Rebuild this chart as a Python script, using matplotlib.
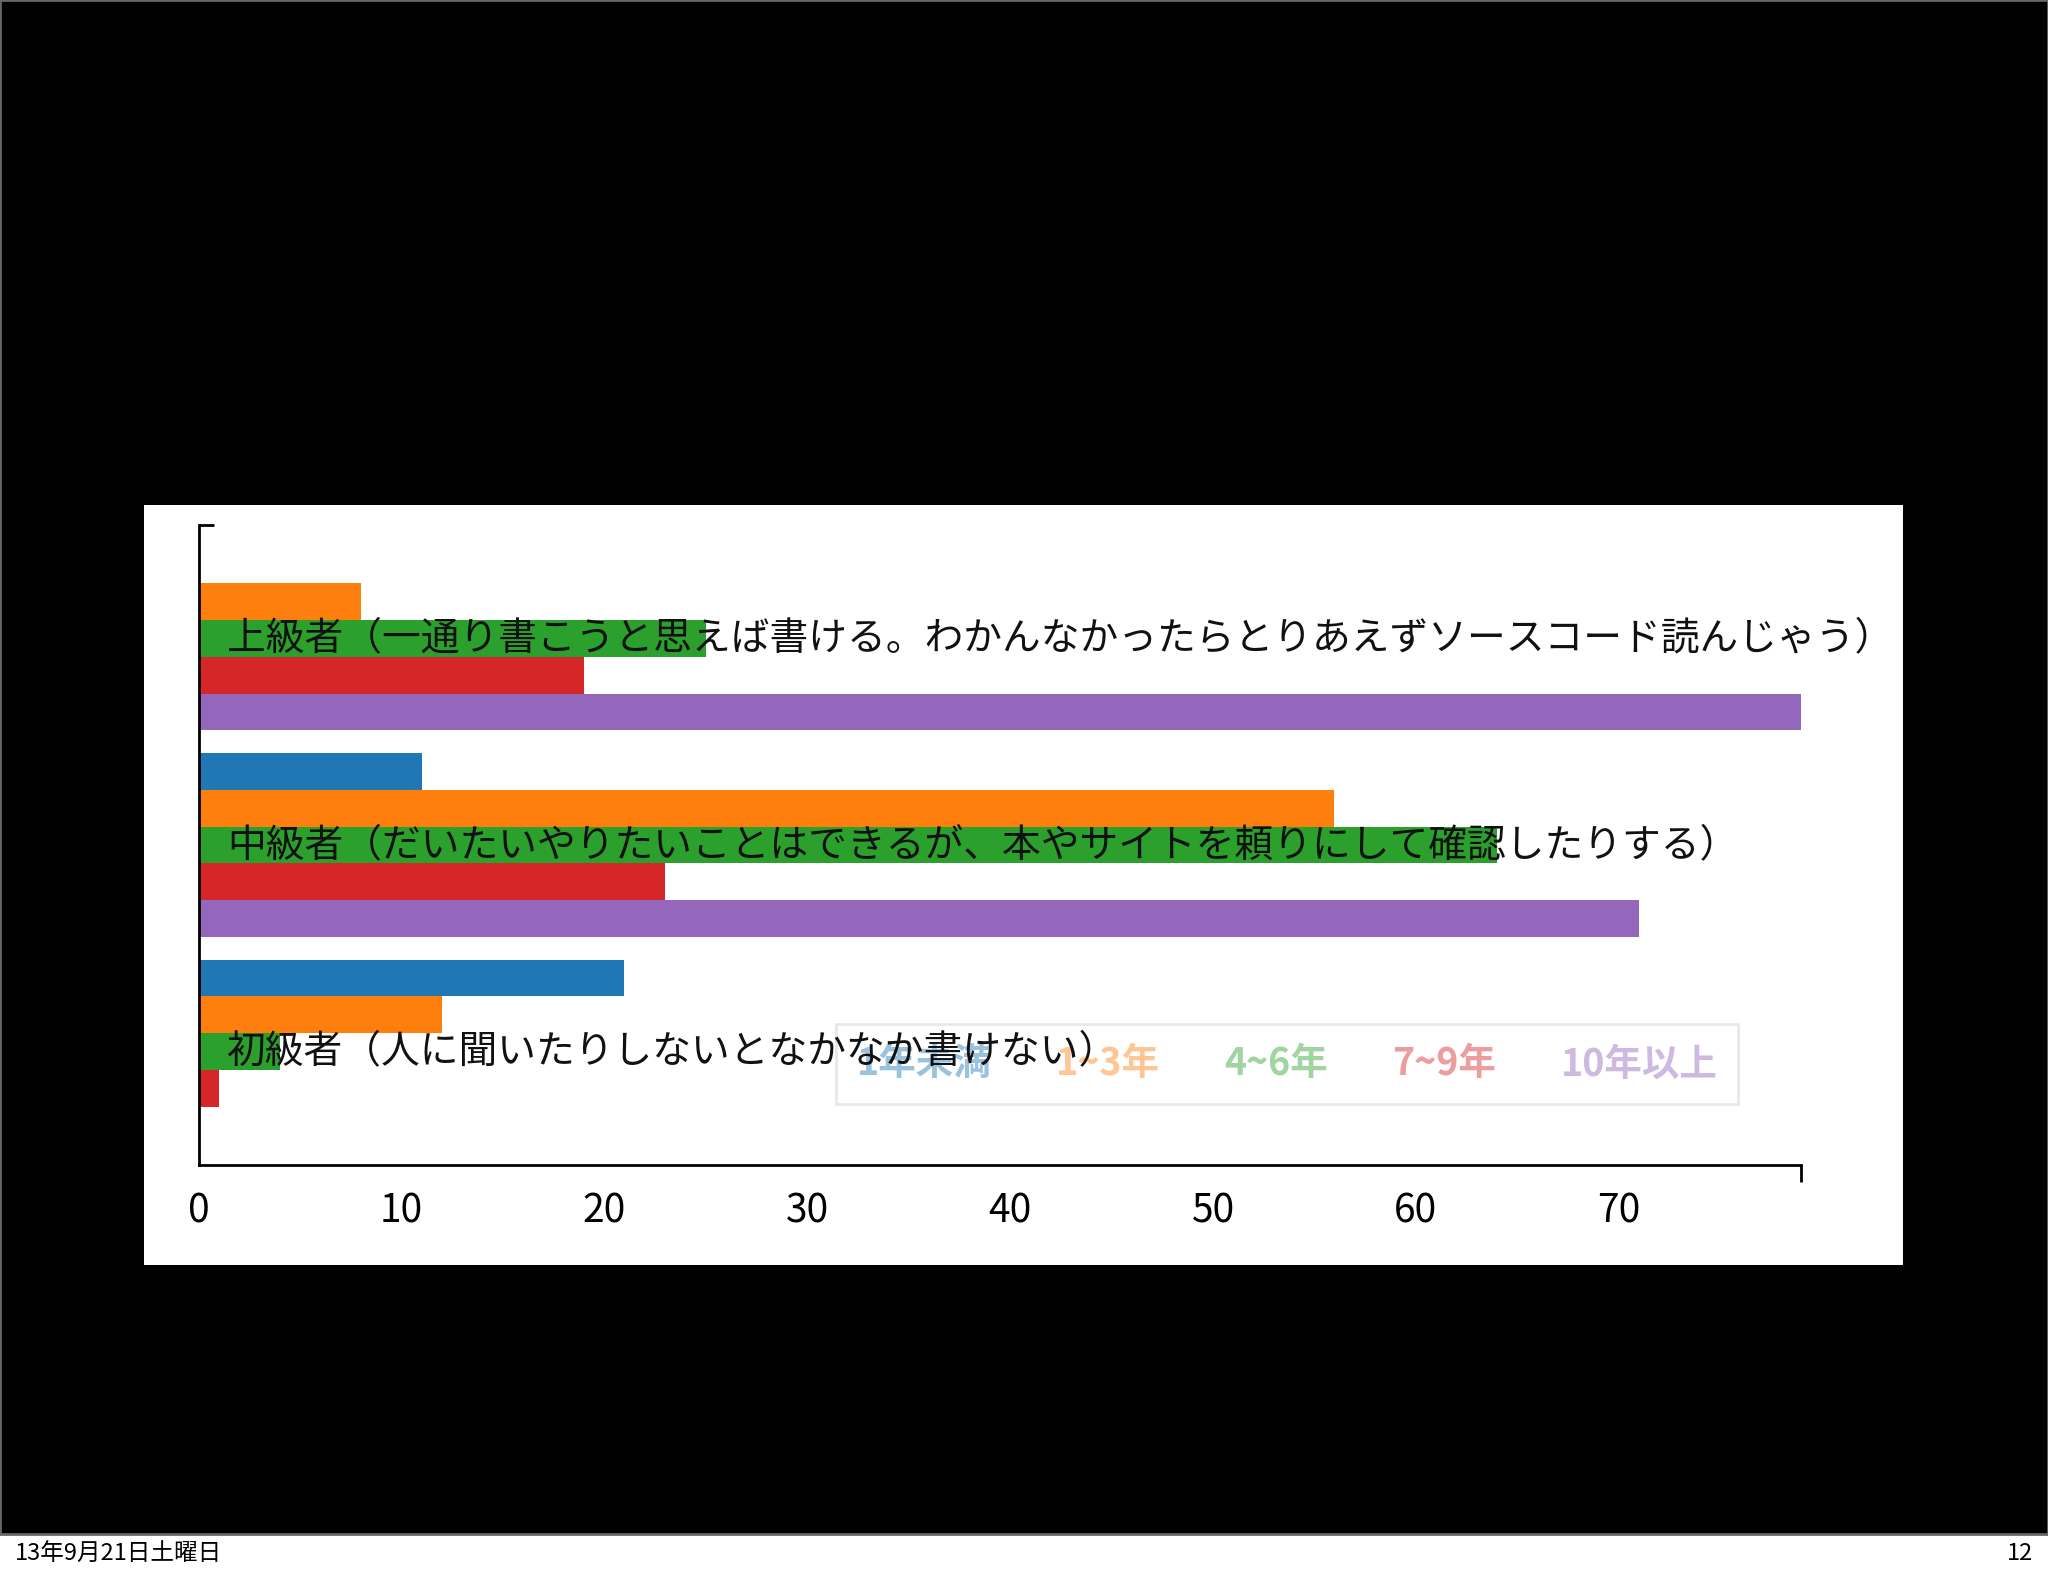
"""
Horizontal grouped bar chart on a slide (experience level vs. years)
"""

import matplotlib
matplotlib.use('Agg')
import matplotlib.pyplot as plt
from matplotlib.patches import Rectangle
import numpy as np

plt.rcParams['font.family'] = ['Noto Sans CJK JP', 'DejaVu Sans']

# data
levels = ['初級者（人に聞いたりしないとなかなか書けない）',
          '中級者（だいたいやりたいことはできるが、本やサイトを頼りにして確認したりする）',
          '上級者（一通り書こうと思えば書ける。わかんなかったらとりあえずソースコード読んじゃう）']
years = ['1年未満', '1~3年', '4~6年', '7~9年', '10年以上']
under_1 = [21, 11, 0]
y1_3 = [12, 56, 8]
y4_6 = [4, 64, 25]
y7_9 = [1, 23, 19]
over_10 = [0, 71, 79]
series = [under_1, y1_3, y4_6, y7_9, over_10]
colors = ['#1f77b4', '#ff7f0e', '#2ca02c', '#d62728', '#9467bd']
x_ticks = [0, 10, 20, 30, 40, 50, 60, 70]

W, H = 2048, 1576
fig = plt.figure(figsize=(W / 100, H / 100), dpi=100, facecolor='white')

# slide background
fig.patches.append(Rectangle((0, 1 - 1534 / H), 1, 1534 / H, transform=fig.transFigure,
                             facecolor='black', edgecolor='#666666', linewidth=2, zorder=-2))
fig.patches.append(Rectangle((144 / W, 1 - 1265 / H), (1903 - 144) / W, (1265 - 505) / H,
                             transform=fig.transFigure, facecolor='white',
                             edgecolor='none', zorder=-1))

ax = fig.add_axes([198.5 / W, 1 - 1165 / H, (1801 - 198.5) / W, (1165 - 525) / H])
ax.patch.set_alpha(0)

pos = np.arange(len(levels))
bar_h = 0.178
offsets = [2 * bar_h, bar_h, 0, -bar_h, -2 * bar_h]
for vals, off, col, lab in zip(series, offsets, colors, years):
    ax.barh(pos + off, vals, height=bar_h, color=col, label=lab, zorder=1)

# category labels drawn inside the axes, over the bars
for p, lab in zip(pos, levels):
    ax.text(1.4, p, lab, fontsize=27.9, va='center', ha='left', color='#111111', zorder=10)

ax.set_xlim(0, max(max(s) for s in series))
ax.set_ylim(-0.55, len(levels) - 1 + 0.55)

for side in ['top', 'right']:
    ax.spines[side].set_visible(False)
for side in ['left', 'bottom']:
    ax.spines[side].set_linewidth(2)

ax.set_yticks([])
ax.set_xticks(x_ticks)
ax.tick_params(axis='x', which='major', length=0, pad=19, labelsize=28)
ax.set_xticks([0, ax.get_xlim()[1]], minor=True)
ax.tick_params(axis='x', which='minor', length=12, width=2, direction='out')
ax.set_yticks([ax.get_ylim()[1]], minor=True)
ax.tick_params(axis='y', which='minor', length=11, width=2, direction='in', labelleft=False)

leg = ax.legend(ncol=5, handlelength=0, handletextpad=0, columnspacing=1.72,
                loc='center', bbox_to_anchor=(1287 / W, 1 - 1064 / H),
                bbox_transform=fig.transFigure, fancybox=False, borderpad=0.55,
                prop={'weight': 'bold', 'size': 27})
for h in leg.legend_handles:
    h.set_visible(False)
for t, col in zip(leg.get_texts(), colors):
    t.set_color(col)
    t.set_alpha(0.45)
leg.get_frame().set_edgecolor('#d8d6de')
leg.get_frame().set_linewidth(2)
leg.get_frame().set_alpha(0.6)

# slide footer
fig.text(15 / W, 1 - 1554 / H, '13年9月21日土曜日', fontsize=17, va='center', ha='left')
fig.text(2033 / W, 1 - 1554 / H, '12', fontsize=17, va='center', ha='right')

plt.savefig('out.png', dpi=100, facecolor=fig.get_facecolor())
